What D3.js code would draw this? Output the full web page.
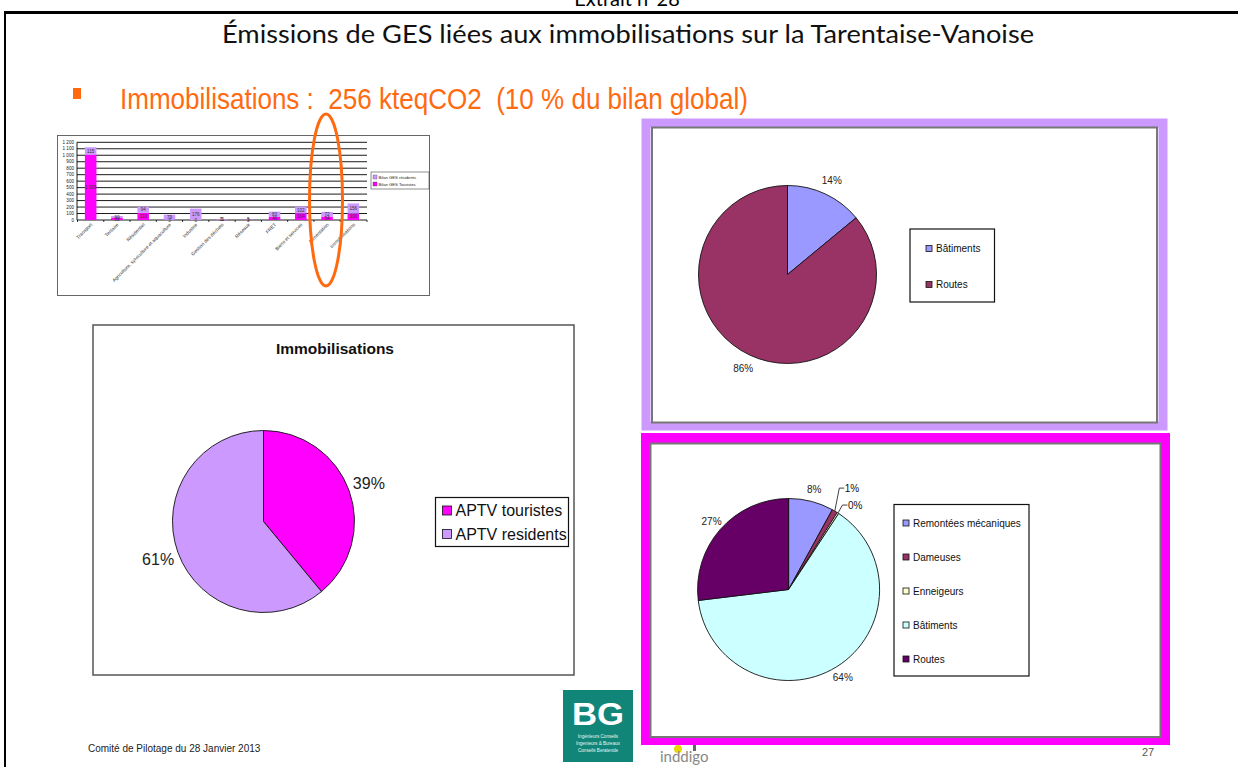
<!DOCTYPE html>
<html>
<head>
<meta charset="utf-8">
<script src="https://cdn.jsdelivr.net/npm/d3@7"></script>
<style>
  body { margin: 0; background: #fff; }
  svg { display: block; font-family: "Liberation Sans", Arial, sans-serif; }
</style>
</head>
<body>
<div id="chart"></div>
<script>
// small stacked bar chart (bilan global)
const barCategories = ["Transport", "Tertiaire", "Résidentiel", "Agriculture, sylviculture et aquaculture",
  "Industrie", "Gestion des déchets", "Réseaux", "FRET", "Biens et services", "Alimentation", "Immobilisations"];
const barTouristes = [1009, 32, 110, 3, 0, 5, 3, 46, 104, 54, 100];
const barResidents = [115, 30, 94, 79, 176, 11, 5, 83, 102, 72, 156];
const barSeries = ["Bilan GES résidents", "Bilan GES Touristes"];
const barTicks = [0, 100, 200, 300, 400, 500, 600, 700, 800, 900, 1000, 1100, 1200];

// pie: immobilisations touristes / residents
const immoLabels = ["APTV touristes", "APTV residents"];
const immoValues = [39, 61];

// pie: résidents
const resLabels = ["Bâtiments", "Routes"];
const resValues = [14, 86];

// pie: touristes
const touLabels = ["Remontées mécaniques", "Dameuses", "Enneigeurs", "Bâtiments", "Routes"];
const touValues = [8, 1, 0.3, 64, 27];

const W = 1238, H = 767;
const fr = d3.formatLocale({ decimal: ",", thousands: " ", grouping: [3], currency: ["", " €"] });
const fmt = fr.format(",");

const svg = d3.select("#chart").append("svg")
  .attr("width", W)
  .attr("height", H);

svg.append("rect").attr("width", W).attr("height", H).attr("fill", "#fff");

// slide header
svg.append("text")
  .attr("x", 627).attr("y", 6)
  .attr("text-anchor", "middle")
  .attr("font-family", "Lato, 'Open Sans', sans-serif")
  .attr("font-size", 20)
  .text("Extrait n°28");

svg.append("line").attr("x1", 4).attr("x2", W).attr("y1", 12.5).attr("y2", 12.5)
  .attr("stroke", "#000").attr("stroke-width", 3);
svg.append("line").attr("x1", 5).attr("x2", 5).attr("y1", 12).attr("y2", H)
  .attr("stroke", "#000").attr("stroke-width", 2);

svg.append("text")
  .attr("x", 628).attr("y", 43)
  .attr("text-anchor", "middle")
  .attr("font-family", "Lato, 'Open Sans', sans-serif")
  .attr("font-size", 25)
  .attr("textLength", 812)
  .attr("lengthAdjust", "spacingAndGlyphs")
  .attr("fill", "#111")
  .text("Émissions de GES liées aux immobilisations sur la Tarentaise-Vanoise");

svg.append("rect").attr("x", 73).attr("y", 88).attr("width", 8).attr("height", 11).attr("fill", "#ff6a10");
svg.append("text")
  .attr("x", 120).attr("y", 109)
  .attr("font-family", "'Liberation Sans Narrow', 'Arial Narrow', 'Liberation Sans', sans-serif")
  .attr("font-size", 29.5)
  .attr("textLength", 628)
  .attr("lengthAdjust", "spacingAndGlyphs")
  .attr("fill", "#ff6a10")
  .style("white-space", "pre")
  .text("Immobilisations :  256 kteqCO2  (10 % du bilan global)");

// ---------- small bar chart ----------
const bar = svg.append("g");
const boxB = { x: 57, y: 135, w: 373, h: 161 };
svg.append("clipPath").attr("id", "clipBar")
  .append("rect").attr("x", boxB.x).attr("y", boxB.y).attr("width", boxB.w).attr("height", boxB.h);
bar.attr("clip-path", "url(#clipBar)");
bar.append("rect").attr("x", boxB.x).attr("y", boxB.y).attr("width", boxB.w).attr("height", boxB.h)
  .attr("fill", "#fff").attr("stroke", "#666").attr("stroke-width", 2);

const xB = d3.scaleBand().domain(barCategories).range([77, 367]).paddingInner(0.56).paddingOuter(0.3);
const yB = d3.scaleLinear().domain([0, 1200]).range([220, 142.3]);

bar.selectAll("line.grid")
  .data(barTicks)
  .enter()
  .append("line")
  .attr("class", "grid")
  .attr("x1", 77).attr("x2", 367)
  .attr("y1", d => yB(d)).attr("y2", d => yB(d))
  .attr("stroke", "#000").attr("stroke-width", 0.9);

bar.append("line").attr("x1", 77).attr("x2", 77).attr("y1", yB(1200)).attr("y2", yB(0))
  .attr("stroke", "#000").attr("stroke-width", 0.9);

bar.selectAll("text.ytick")
  .data(barTicks)
  .enter()
  .append("text")
  .attr("class", "ytick")
  .attr("x", 74).attr("y", d => yB(d) + 1.6)
  .attr("text-anchor", "end")
  .attr("font-size", 4.6)
  .attr("fill", "#222")
  .text(d => fmt(d));

// x ticks between categories
const bounds = barCategories.map(c => xB(c) - xB.step() * xB.paddingInner() / 2).concat([367]);
bar.selectAll("line.xtick")
  .data(bounds)
  .enter()
  .append("line")
  .attr("class", "xtick")
  .attr("x1", d => d).attr("x2", d => d)
  .attr("y1", yB(0)).attr("y2", yB(0) + 2)
  .attr("stroke", "#000").attr("stroke-width", 0.8);

const stackData = barCategories.map((c, i) => ({ cat: c, tou: barTouristes[i], res: barResidents[i] }));

bar.selectAll("rect.tou")
  .data(stackData)
  .enter()
  .append("rect")
  .attr("class", "tou")
  .attr("x", d => xB(d.cat))
  .attr("width", xB.bandwidth())
  .attr("y", d => yB(d.tou))
  .attr("height", d => yB(0) - yB(d.tou))
  .attr("fill", "#ff00ff");

bar.selectAll("rect.res")
  .data(stackData)
  .enter()
  .append("rect")
  .attr("class", "res")
  .attr("x", d => xB(d.cat))
  .attr("width", xB.bandwidth())
  .attr("y", d => yB(d.tou + d.res))
  .attr("height", d => yB(d.tou) - yB(d.tou + d.res))
  .attr("fill", "#cc99ff");

bar.selectAll("text.vtou")
  .data(stackData)
  .enter()
  .append("text")
  .attr("class", "vtou")
  .attr("x", d => xB(d.cat) + xB.bandwidth() / 2)
  .attr("y", d => yB(d.tou / 2) + 1.6)
  .attr("text-anchor", "middle")
  .attr("font-size", 4.6)
  .attr("fill", "#333")
  .text(d => fmt(d.tou));

bar.selectAll("text.vres")
  .data(stackData)
  .enter()
  .append("text")
  .attr("class", "vres")
  .attr("x", d => xB(d.cat) + xB.bandwidth() / 2)
  .attr("y", d => yB(d.tou + d.res / 2) + 1.6)
  .attr("text-anchor", "middle")
  .attr("font-size", 4.6)
  .attr("fill", "#333")
  .text(d => fmt(d.res));

bar.selectAll("text.cat")
  .data(barCategories)
  .enter()
  .append("text")
  .attr("class", "cat")
  .attr("transform", d => `translate(${xB(d) + xB.bandwidth() / 2 + 2},${yB(0) + 5}) rotate(-45)`)
  .attr("text-anchor", "end")
  .attr("font-size", 4.8)
  .attr("fill", "#333")
  .text(d => d);

// bar legend
const lgB = bar.append("g").attr("transform", "translate(371,172)");
lgB.append("rect").attr("width", 58).attr("height", 17).attr("fill", "#fff").attr("stroke", "#444").attr("stroke-width", 0.6);
const barColors = ["#cc99ff", "#ff00ff"];
barSeries.forEach((s, i) => {
  lgB.append("rect").attr("x", 2).attr("y", 3 + i * 7).attr("width", 4).attr("height", 4)
    .attr("fill", barColors[i]).attr("stroke", "#333").attr("stroke-width", 0.3);
  lgB.append("text").attr("x", 7.5).attr("y", 6.6 + i * 7).attr("font-size", 4.2).attr("fill", "#222").text(s);
});

// orange ellipse over the bar chart
svg.append("ellipse")
  .attr("cx", 326).attr("cy", 200).attr("rx", 16.5).attr("ry", 86)
  .attr("fill", "none").attr("stroke", "#ff6a10").attr("stroke-width", 3);

// ---------- pie helpers ----------
function drawPie(g, values, colors, cx, cy, r, labelR, fontSize, small) {
  const arcs = d3.pie().sort(null).value(d => d)(values);
  const arc = d3.arc().innerRadius(0).outerRadius(r);
  const lab = d3.arc().innerRadius(labelR).outerRadius(labelR);
  const pg = g.append("g").attr("transform", `translate(${cx},${cy})`);
  pg.selectAll("path")
    .data(arcs)
    .enter()
    .append("path")
    .attr("d", arc)
    .attr("fill", (d, i) => colors[i])
    .attr("stroke", "#111")
    .attr("stroke-width", 0.9);
  let k = 0;
  arcs.forEach((d, i) => {
    const txt = Math.round(d.data) + "%";
    if (small && d.data < 2) {
      // leader line for tiny slices
      const a = (d.startAngle + d.endAngle) / 2;
      const px = r * Math.sin(a), py = -r * Math.cos(a);
      const ky = py - small[k], kx = px + 4.5;
      pg.append("polyline")
        .attr("points", `${px},${py} ${kx},${ky} ${kx + 5},${ky}`)
        .attr("fill", "none").attr("stroke", "#111").attr("stroke-width", 0.8);
      pg.append("text").attr("x", kx + 5.5).attr("y", ky + 3.5)
        .attr("font-size", fontSize).attr("fill", "#111").text(txt);
      k++;
    } else {
      const c = lab.centroid(d);
      pg.append("text").attr("x", c[0]).attr("y", c[1])
        .attr("text-anchor", "middle").attr("dominant-baseline", "central")
        .attr("font-size", fontSize).attr("fill", "#222").text(txt);
    }
  });
}

// legend box; textX is measured from the box's left edge
function drawLegend(g, labels, colors, x, y, w, h, firstY, stepY, sq, fontSize, textX) {
  const lg = g.append("g").attr("transform", `translate(${x},${y})`);
  lg.append("rect").attr("width", w).attr("height", h).attr("fill", "#fff")
    .attr("stroke", "#111").attr("stroke-width", 1.2);
  labels.forEach((l, i) => {
    const cy = firstY + i * stepY;
    lg.append("rect").attr("x", textX - sq - 4).attr("y", cy - sq / 2).attr("width", sq).attr("height", sq)
      .attr("fill", colors[i]).attr("stroke", "#111").attr("stroke-width", 0.8);
    lg.append("text").attr("x", textX).attr("y", cy).attr("dominant-baseline", "central")
      .attr("font-size", fontSize).attr("fill", "#111").text(l);
  });
}

// ---------- pie: Immobilisations ----------
const p1 = svg.append("g");
p1.append("rect").attr("x", 93).attr("y", 325).attr("width", 481).attr("height", 350)
  .attr("fill", "#fff").attr("stroke", "#555").attr("stroke-width", 1.5);
p1.append("text").attr("x", 335).attr("y", 354).attr("text-anchor", "middle")
  .attr("font-size", 15.5).attr("font-weight", "bold").attr("fill", "#111").text("Immobilisations");
const immoColors = ["#ff00ff", "#cc99ff"];
drawPie(p1, immoValues, immoColors, 263.5, 521.5, 91, 112, 16, null);
drawLegend(p1, immoLabels, immoColors, 435.5, 497.5, 133, 49, 13, 23.5, 9, 16, 20);

// ---------- pie: résidents (lilac frame) ----------
const p2 = svg.append("g");
p2.append("rect").attr("x", 646).attr("y", 123).attr("width", 517).attr("height", 303)
  .attr("fill", "none").attr("stroke", "#cc99ff").attr("stroke-width", 9);
p2.append("rect").attr("x", 652).attr("y", 127.5).attr("width", 505).attr("height", 295)
  .attr("fill", "#fff").attr("stroke", "#777").attr("stroke-width", 2);
const resColors = ["#9999ff", "#993366"];
drawPie(p2, resValues, resColors, 787.5, 274.5, 89, 104, 10, null);
drawLegend(p2, resLabels, resColors, 910, 229, 84.5, 73, 19.5, 36, 6, 10, 26);

// ---------- pie: touristes (pink frame) ----------
const p3 = svg.append("g");

// logos and footer (partly under the pink frame)
const foot = svg.append("g");
foot.append("text").attr("x", 88).attr("y", 752).attr("font-size", 10).attr("fill", "#222")
  .text("Comité de Pilotage du 28 Janvier 2013");
foot.append("rect").attr("x", 563).attr("y", 690).attr("width", 70).attr("height", 72).attr("fill", "#118678");
foot.append("text").attr("x", 598).attr("y", 725).attr("text-anchor", "middle")
  .attr("font-size", 31).attr("font-weight", "bold").attr("fill", "#fff")
  .attr("textLength", 52).attr("lengthAdjust", "spacingAndGlyphs").text("BG");
["Ingénieurs Conseils", "Ingenieurs & Bureaux", "Conseils Beratende"].forEach((t, i) => {
  foot.append("text").attr("x", 598).attr("y", 738 + i * 7).attr("text-anchor", "middle")
    .attr("font-size", 4.6).attr("fill", "#e8f4f2").text(t);
});
foot.append("circle").attr("cx", 678).attr("cy", 749).attr("r", 4).attr("fill", "#e8d800");
foot.append("rect").attr("x", 693).attr("y", 744).attr("width", 3).attr("height", 7).attr("fill", "#666");
foot.append("text").attr("x", 660).attr("y", 762).attr("font-family", "Lato, sans-serif")
  .attr("font-size", 15).attr("fill", "#888").text("inddigo");
foot.append("text").attr("x", 1148).attr("y", 756).attr("text-anchor", "middle")
  .attr("font-size", 11).attr("fill", "#555").text("27");

p3.raise();
p3.append("rect").attr("x", 646).attr("y", 438).attr("width", 519).attr("height", 302)
  .attr("fill", "none").attr("stroke", "#ff00ff").attr("stroke-width", 10);
p3.append("rect").attr("x", 650.5).attr("y", 443.5).attr("width", 510).attr("height", 293.5)
  .attr("fill", "#fff").attr("stroke", "#777").attr("stroke-width", 2);
const touColors = ["#9999ff", "#993366", "#ffffcc", "#ccffff", "#660066"];
drawPie(p3, touValues, touColors, 788.6, 589.5, 91, 103, 10, [23, 8]);
drawLegend(p3, touLabels, touColors, 894, 504.5, 135, 171.5, 18.5, 34, 6, 10, 19);
</script>
</body>
</html>
